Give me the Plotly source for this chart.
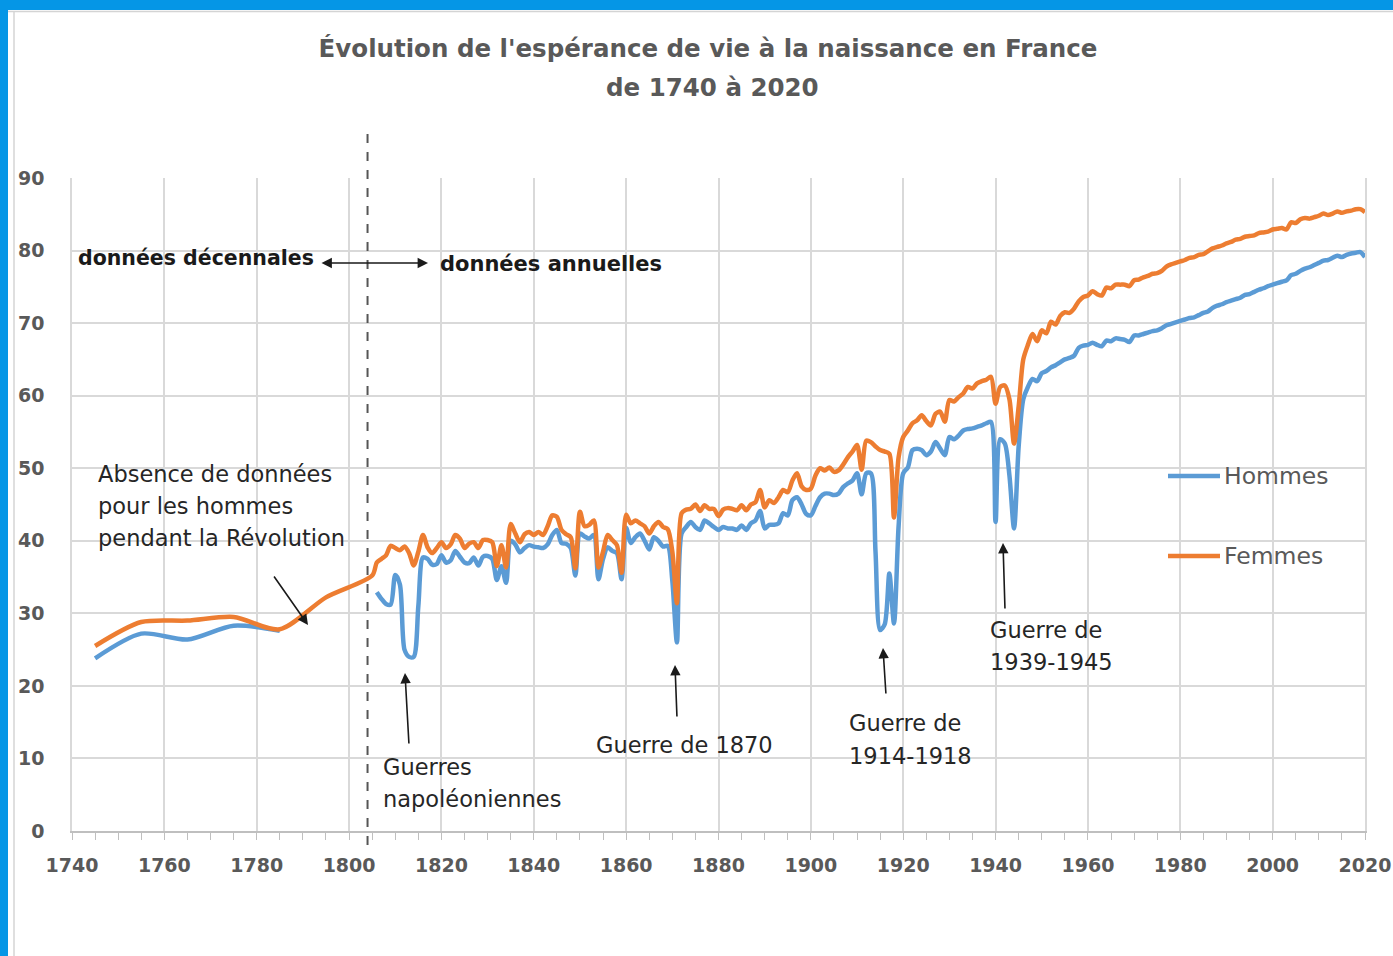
import plotly.graph_objects as go

# ---------------- DATA ----------------
dec_years_f = [1745, 1755, 1765, 1775, 1785, 1795, 1805]
dec_femmes = [25.5, 28.8, 29.0, 29.5, 27.8, 32.2, 35.2]
dec_years_h = [1745, 1755, 1765, 1775, 1785]
dec_hommes = [23.8, 27.2, 26.4, 28.3, 27.6]

annual_years = list(range(1806, 2021))

hommes_annual = [
    # 1806-1815
    32.9, 32.0, 31.3, 31.2, 35.3, 34.0, 25.0, 24.0, 24.0, 31.0,
    # 1816-1825
    37.7, 37.5, 36.7, 36.8, 38.0, 37.0, 37.3, 38.6, 37.8, 37.0,
    # 1826-1835
    36.9, 37.7, 36.6, 37.8, 37.9, 37.5, 34.6, 36.5, 34.2, 40.0,
    # 1836-1845
    39.5, 38.4, 39.0, 39.4, 39.2, 39.1, 39.0, 39.5, 40.8, 41.5,
    # 1846-1855
    39.7, 39.6, 39.0, 35.2, 41.0, 40.6, 40.3, 40.8, 34.7, 37.5,
    # 1856-1865
    39.1, 38.6, 38.3, 34.7, 41.8, 39.7, 40.5, 41.0, 40.0, 38.8,
    # 1866-1875
    40.5, 40.0, 39.2, 39.3, 34.5, 26.0, 41.0, 41.9, 42.6, 41.9,
    # 1876-1885
    41.5, 42.8, 42.4, 41.9, 41.5, 41.9, 41.7, 41.7, 41.5, 42.1,
    # 1886-1895
    41.5, 42.4, 42.8, 44.1, 41.7, 42.2, 42.2, 42.4, 43.8, 43.5,
    # 1896-1905
    45.6, 46.0, 45.0, 43.7, 43.5, 44.8, 46.0, 46.5, 46.5, 46.3,
    # 1906-1915
    46.5, 47.4, 47.9, 48.3, 49.3, 46.4, 49.3, 49.3, 38.5, 27.7,
    # 1916-1925
    28.5, 35.5, 28.6, 42.0, 49.3, 50.1, 52.5, 52.7, 52.5, 51.8,
    # 1926-1935
    52.3, 53.6, 52.7, 51.8, 54.3, 54.0, 54.5, 55.2, 55.4, 55.5,
    # 1936-1945
    55.7, 55.9, 56.2, 56.4, 42.6, 54.0, 53.4, 49.0, 41.7, 53.0,
    # 1946-1955
    59.5, 61.2, 62.3, 62.0, 63.1, 63.4, 63.9, 64.2, 64.6, 65.0,
    # 1956-1965
    65.2, 65.5, 66.6, 66.9, 67.0, 67.3, 67.0, 66.8, 67.6, 67.5,
    # 1966-1975
    67.9, 67.8, 67.7, 67.4, 68.3, 68.3, 68.5, 68.7, 68.9, 69.0,
    # 1976-1985
    69.3, 69.7, 69.9, 70.1, 70.3, 70.5, 70.7, 70.8, 71.1, 71.4,
    # 1986-1995
    71.6, 72.1, 72.4, 72.6, 72.9, 73.1, 73.3, 73.5, 73.9, 74.0,
    # 1996-2005
    74.3, 74.6, 74.8, 75.1, 75.3, 75.5, 75.7, 75.9, 76.6, 76.8,
    # 2006-2015
    77.2, 77.5, 77.7, 78.0, 78.3, 78.6, 78.7, 79.0, 79.3, 79.1,
    # 2016-2020
    79.4, 79.6, 79.7, 79.8, 79.1,
]

femmes_annual = [
    # 1806-1815
    37.0, 37.5, 38.0, 39.3, 39.0, 38.7, 39.2, 38.3, 36.6, 38.5,
    # 1816-1825
    40.8, 39.1, 38.3, 39.0, 39.8, 39.0, 39.5, 40.8, 40.3, 39.0,
    # 1826-1835
    39.6, 39.8, 39.0, 40.1, 40.1, 39.8, 36.5, 39.4, 36.3, 42.3,
    # 1836-1845
    41.0, 39.8, 40.9, 41.2, 40.8, 41.2, 40.8, 42.0, 43.5, 43.3,
    # 1846-1855
    41.5, 40.9, 40.5, 36.2, 44.0, 42.0, 42.2, 42.8, 36.3, 38.5,
    # 1856-1865
    40.8, 40.1, 39.4, 35.6, 43.6, 42.4, 42.8, 42.4, 42.0, 41.0,
    # 1866-1875
    42.0, 42.6, 41.9, 41.6, 38.5, 31.4, 43.8, 44.3, 44.4, 45.0,
    # 1876-1885
    44.1, 44.9, 44.4, 44.4, 43.4, 44.3, 44.5, 44.4, 44.2, 44.9,
    # 1886-1895
    44.2, 45.0, 45.3, 47.0, 44.6, 45.6, 45.2, 46.0, 47.0, 46.7,
    # 1896-1905
    48.3, 49.3, 47.5, 47.0, 47.2, 49.0, 50.0, 49.7, 50.1, 49.5,
    # 1906-1915
    49.7, 50.5, 51.5, 52.3, 53.2, 49.8, 53.8, 53.6, 53.0, 52.5,
    # 1916-1925
    52.3, 52.0, 43.2, 51.5, 54.3, 55.2, 56.2, 56.6, 57.3, 56.5,
    # 1926-1935
    55.9, 57.5, 57.8, 56.4, 59.4, 59.2, 59.8, 60.3, 61.2, 61.0,
    # 1936-1945
    61.7, 62.0, 62.2, 62.6, 58.9, 61.2, 61.4, 59.5, 53.4, 58.5,
    # 1946-1955
    65.0, 67.0, 68.5, 67.5, 69.0, 68.6, 70.2, 69.8, 71.0, 71.5,
    # 1956-1965
    71.4, 72.0, 73.0, 73.6, 73.8, 74.4, 74.0, 73.8, 74.9, 74.8,
    # 1966-1975
    75.3, 75.3, 75.3, 75.1, 75.9, 76.0, 76.3, 76.5, 76.8, 76.9,
    # 1976-1985
    77.2, 77.8, 78.1, 78.3, 78.5, 78.7, 79.0, 79.1, 79.4, 79.5,
    # 1986-1995
    79.9, 80.3, 80.5, 80.7, 81.0, 81.2, 81.5, 81.6, 81.9, 82.0,
    # 1996-2005
    82.1, 82.4, 82.5, 82.6, 82.9, 83.0, 83.1, 82.9, 83.9, 83.8,
    # 2006-2015
    84.3, 84.5, 84.4, 84.6, 84.8, 85.1, 84.9, 85.1, 85.4, 85.2,
    # 2016-2020
    85.4, 85.5, 85.7, 85.7, 85.3,
]

x_ticks = list(range(1740, 2021, 20))
y_ticks = list(range(0, 91, 10))
series_names = ["Hommes", "Femmes"]
series_colors = ["#5B9BD5", "#ED7D31"]
separation_year = 1804

# ---------------- FIGURE ----------------
W, H = 1393, 956
L, R, T, B = 72, 1365, 178, 831


def xp(px):
    return (px - L) / (R - L)


def yp(py):
    return (B - py) / (B - T)


FONT = "DejaVu Sans"
GRAY = "#595959"

x_h = dec_years_h + [1795] + annual_years
y_h = dec_hommes + [None] + hommes_annual
x_f = dec_years_f + annual_years
y_f = dec_femmes + femmes_annual

fig = go.Figure()
fig.add_trace(go.Scatter(
    x=x_h, y=y_h, mode="lines", name=series_names[0], connectgaps=False,
    line=dict(color=series_colors[0], width=4.5, shape="spline", smoothing=0.8),
    showlegend=False, hoverinfo="x+y+name"))
fig.add_trace(go.Scatter(
    x=x_f, y=y_f, mode="lines", name=series_names[1],
    line=dict(color=series_colors[1], width=4.5, shape="spline", smoothing=0.8),
    showlegend=False, hoverinfo="x+y+name"))

shapes = []
# dashed separator
shapes.append(dict(type="line", xref="x", yref="paper", x0=separation_year, x1=separation_year,
                   y0=yp(845), y1=yp(125), line=dict(color="#555555", width=2, dash="dash")))
# frame (blue bars + thin gray lines)
shapes.append(dict(type="rect", xref="paper", yref="paper", x0=xp(-5), x1=xp(W + 5),
                   y0=yp(10), y1=yp(-5), fillcolor="#0596e6", line=dict(width=0), layer="above"))
shapes.append(dict(type="rect", xref="paper", yref="paper", x0=xp(-5), x1=xp(8),
                   y0=yp(H + 5), y1=yp(-5), fillcolor="#0596e6", line=dict(width=0), layer="above"))
shapes.append(dict(type="line", xref="paper", yref="paper", x0=xp(14), x1=xp(14),
                   y0=yp(H), y1=yp(11), line=dict(color="#d4d4d4", width=1.5)))
shapes.append(dict(type="line", xref="paper", yref="paper", x0=xp(8), x1=xp(W),
                   y0=yp(11.5), y1=yp(11.5), line=dict(color="#d4d4d4", width=1.5)))
# manual legend line samples
for py, col in [(476, series_colors[0]), (556, series_colors[1])]:
    shapes.append(dict(type="line", xref="paper", yref="paper", x0=xp(1168), x1=xp(1220),
                       y0=yp(py), y1=yp(py), line=dict(color=col, width=4.5)))

annotations = []


def text(px, py, s, size=22.5, bold=False, color="#262626", anchor="left"):
    annotations.append(dict(
        xref="paper", yref="paper", x=xp(px), y=yp(py), text=("<b>%s</b>" % s) if bold else s,
        showarrow=False, xanchor=anchor, yanchor="middle",
        font=dict(family=FONT, size=size, color=color)))


def arrow(hx, hy, tx, ty, both=False):
    a = dict(xref="paper", yref="paper", x=xp(hx), y=yp(hy), text="",
             showarrow=True, ax=tx - hx, ay=ty - hy, arrowhead=2, arrowsize=1.3,
             arrowwidth=1.6, arrowcolor="#1a1a1a", standoff=0, startstandoff=0)
    if both:
        a["arrowside"] = "end+start"
        a["startarrowhead"] = 2
        a["startarrowsize"] = 1.3
    annotations.append(a)


# title second line
text(712, 87, "de 1740 à 2020", size=24.5, bold=True, color=GRAY, anchor="center")

text(76, 258, "données décennales", size=20.5, bold=True, color="#1a1a1a")
text(438, 264, "données annuelles", size=21, bold=True, color="#1a1a1a")
arrow(428, 263, 320, 263, both=True)

text(96, 474, "Absence de données")
text(96, 506, "pour les hommes")
text(96, 538, "pendant la Révolution")
arrow(308, 625, 273, 575)

text(381, 767, "Guerres")
text(381, 799, "napoléoniennes")
arrow(405, 673, 409, 745)

text(594, 745, "Guerre de 1870")
arrow(675, 665, 677, 718)

text(847, 723, "Guerre de")
text(847, 756, "1914-1918")
arrow(883, 648, 886, 695)

text(988, 630, "Guerre de")
text(988, 662, "1939-1945")
arrow(1003, 543, 1005, 610)

# legend labels
text(1222, 476, series_names[0], size=23.5, color=GRAY)
text(1222, 556, series_names[1], size=23.5, color=GRAY)

fig.update_layout(
    width=W, height=H, autosize=False,
    margin=dict(l=L, r=W - R, t=T, b=H - B, pad=0, autoexpand=False),
    paper_bgcolor="white", plot_bgcolor="white",
    title=dict(text="<b>Évolution de l'espérance de vie à la naissance en France</b>",
               xref="container", x=708 / W, xanchor="center",
               yref="container", y=1 - 48 / H, yanchor="middle",
               font=dict(family=FONT, size=24.5, color=GRAY)),
    shapes=shapes, annotations=annotations, showlegend=False,
)
fig.update_xaxes(
    range=[1740, 2020], tickmode="array", tickvals=x_ticks,
    ticktext=["<b>%d</b>" % v for v in x_ticks], automargin=False,
    showgrid=True, gridcolor="#d9d9d9", gridwidth=1.5,
    showline=True, linecolor="#bfbfbf", linewidth=2,
    ticks="outside", ticklen=7, tickcolor="#bfbfbf", tickwidth=1.2,
    minor=dict(dtick=5, tick0=1740, ticks="outside", ticklen=7, tickcolor="#bfbfbf",
               tickwidth=1.2, showgrid=False),
    tickfont=dict(family=FONT, size=19, color=GRAY), ticklabelstandoff=9,
    zeroline=False, fixedrange=True,
)
fig.update_yaxes(
    range=[0, 90], tickmode="array", tickvals=y_ticks,
    ticktext=["<b>%d</b>" % v for v in y_ticks], automargin=False,
    showgrid=True, gridcolor="#d9d9d9", gridwidth=1.5,
    showline=True, mirror=True, linecolor="#d9d9d9", linewidth=1.5,
    ticks="", tickfont=dict(family=FONT, size=19, color=GRAY), ticklabelstandoff=22,
    zeroline=False, fixedrange=True,
)

assert len(hommes_annual) == len(annual_years) == len(femmes_annual)

fig.write_html("out.html", config={"displayModeBar": False},
               post_script="document.body.style.margin='0px';")
